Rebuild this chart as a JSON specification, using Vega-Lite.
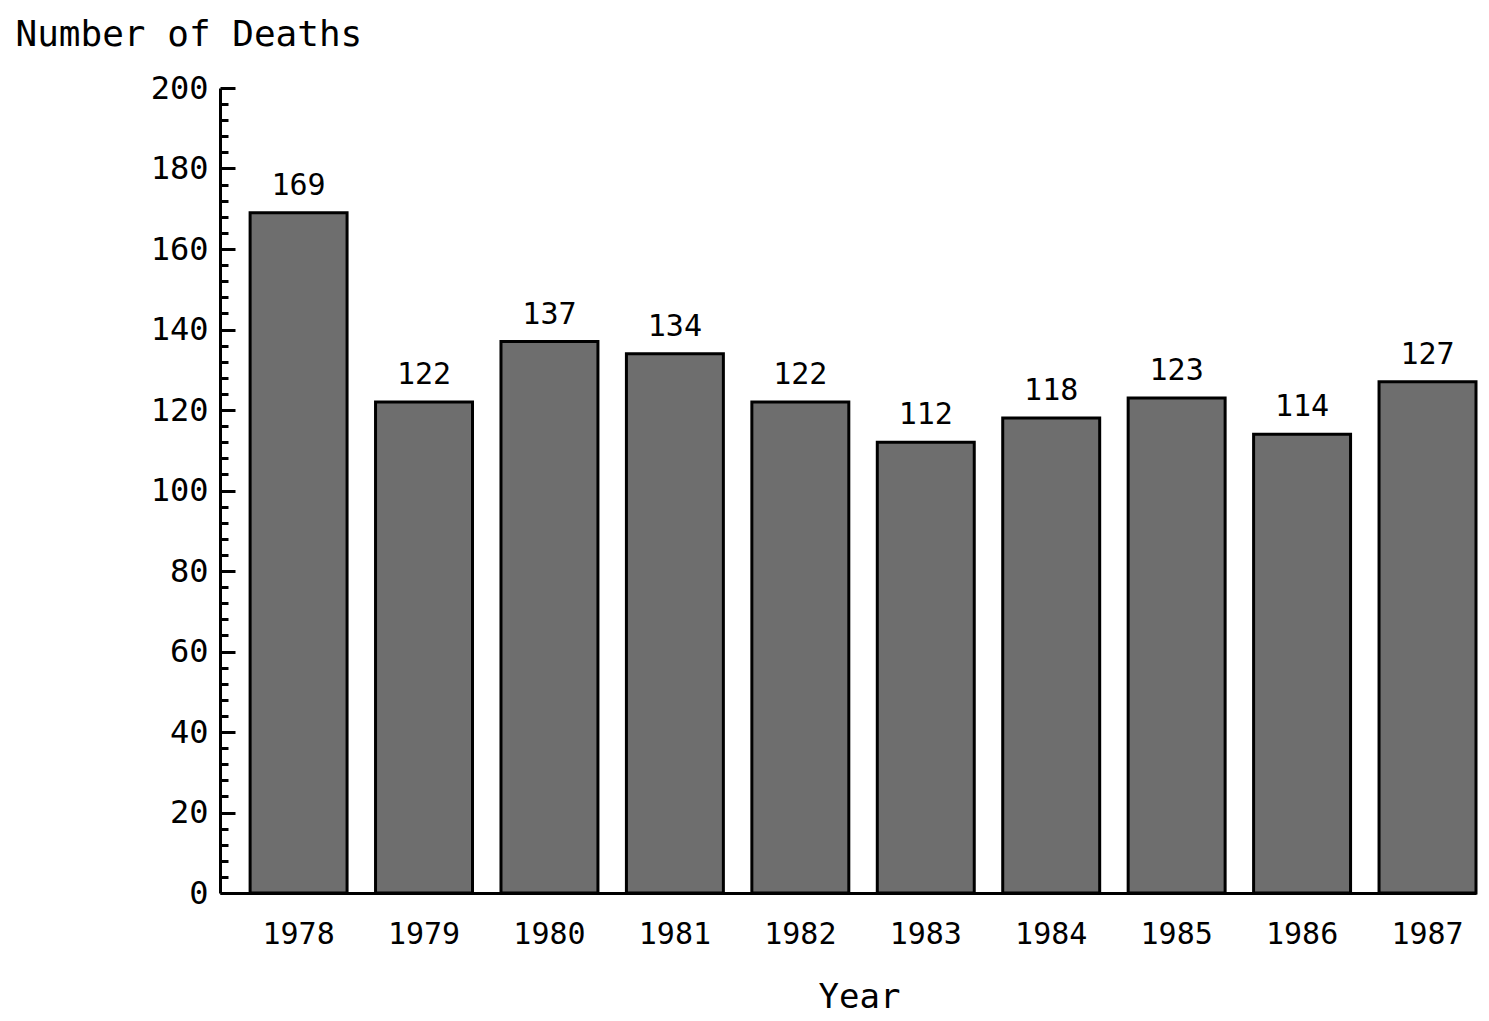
{
  "$schema": "https://vega.github.io/schema/vega-lite/v6.json",
  "width": 1256,
  "height": 805,
  "autosize": {"type": "none"},
  "padding": {"left": 220, "top": 88, "right": 13, "bottom": 128},
  "background": "white",
  "config": {"view": {"stroke": null}, "font": "DejaVu Sans Mono"},
  "data": {
    "values": [
      {"year": "1978", "deaths": 169},
      {"year": "1979", "deaths": 122},
      {"year": "1980", "deaths": 137},
      {"year": "1981", "deaths": 134},
      {"year": "1982", "deaths": 122},
      {"year": "1983", "deaths": 112},
      {"year": "1984", "deaths": 118},
      {"year": "1985", "deaths": 123},
      {"year": "1986", "deaths": 114},
      {"year": "1987", "deaths": 127}
    ]
  },
  "encoding": {
    "x": {
      "field": "year",
      "type": "ordinal",
      "scale": {"paddingInner": 0.227, "paddingOuter": 0.12, "align": 1, "round": false},
      "axis": {
        "ticks": false,
        "domainColor": "black",
        "domainWidth": 3,
        "labelFont": "DejaVu Sans Mono",
        "labelFontSize": 30,
        "labelColor": "black",
        "labelPadding": 26,
        "labelAngle": 0,
        "title": "Year",
        "titleFont": "DejaVu Sans Mono",
        "titleFontSize": 34,
        "titleFontWeight": "normal",
        "titleColor": "black",
        "titleX": 639,
        "titleY": 114,
        "titleBaseline": "alphabetic"
      }
    },
    "y": {
      "field": "deaths",
      "type": "quantitative",
      "scale": {"domain": [0, 200], "nice": false},
      "axis": {
        "values": [0,4,8,12,16,20,24,28,32,36,40,44,48,52,56,60,64,68,72,76,80,84,88,92,96,100,104,108,112,116,120,124,128,132,136,140,144,148,152,156,160,164,168,172,176,180,184,188,192,196,200],
        "labelExpr": "datum.value % 20 === 0 ? datum.label : ''",
        "grid": false,
        "tickSize": {"condition": {"test": "datum.value % 20 === 0", "value": -15}, "value": -8},
        "tickWidth": 3,
        "tickColor": "black",
        "domainColor": "black",
        "domainWidth": 3,
        "labelFont": "DejaVu Sans Mono",
        "labelFontSize": 32,
        "labelColor": "black",
        "labelPadding": 27,
        "labelFlush": false,
        "labelOverlap": false,
        "labelBaseline": "middle",
        "title": "Number of Deaths",
        "titleFont": "DejaVu Sans Mono",
        "titleFontSize": 36,
        "titleFontWeight": "normal",
        "titleColor": "black",
        "titleAngle": 0,
        "titleAlign": "left",
        "titleBaseline": "alphabetic",
        "titleX": -205,
        "titleY": -43
      }
    }
  },
  "layer": [
    {"mark": {"type": "bar", "fill": "#6e6e6e", "stroke": "black", "strokeWidth": 3}},
    {
      "mark": {"type": "text", "dy": -12, "baseline": "bottom", "fontSize": 30, "font": "DejaVu Sans Mono", "color": "black"},
      "encoding": {"text": {"field": "deaths"}}
    }
  ]
}
